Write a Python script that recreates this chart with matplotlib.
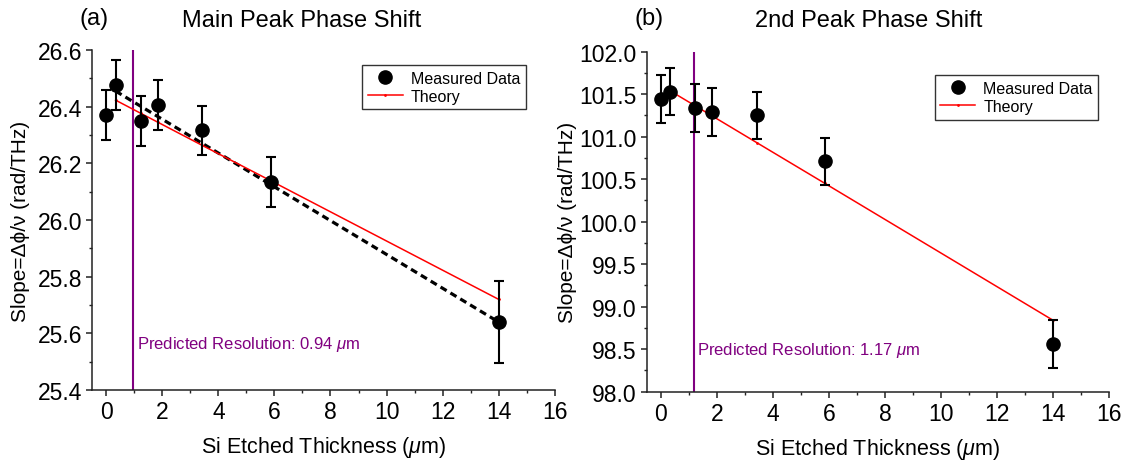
import matplotlib
matplotlib.use("Agg")
import matplotlib.pyplot as plt
from matplotlib.ticker import MultipleLocator

plt.rcParams['font.family'] = ['Liberation Sans', 'DejaVu Sans']
plt.rcParams['mathtext.fontset'] = 'custom'
plt.rcParams['mathtext.it'] = 'Liberation Sans:italic'
plt.rcParams['mathtext.rm'] = 'Liberation Sans'

# etched thickness (um)
thickness = [0.0, 0.33, 1.22, 1.84, 3.43, 5.86, 14.0]

# panel (a): main peak
main_slope = [26.37, 26.477, 26.348, 26.405, 26.316, 26.133, 25.64]
main_err = [0.088, 0.088, 0.088, 0.088, 0.088, 0.088, 0.143]
main_theory_x = [0.33, 1.22, 1.84, 3.43, 5.86, 14.0]
main_theory = [26.423, 26.377, 26.345, 26.263, 26.139, 25.72]
main_fit_x = [0.33, 14.0]
main_fit = [26.455, 25.64]
main_resolution = 0.94

# panel (b): 2nd peak
second_slope = [101.44, 101.53, 101.34, 101.29, 101.25, 100.71, 98.56]
second_err = [0.28, 0.28, 0.28, 0.28, 0.28, 0.28, 0.28]
second_theory_x = [0.33, 1.22, 1.84, 3.43, 5.86, 14.0]
second_theory = [101.54, 101.365, 101.243, 100.929, 100.45, 98.84]
second_resolution = 1.17

fig = plt.figure(figsize=(11.23, 4.64), dpi=100)
ax1 = fig.add_axes([0.0822, 0.1573, 0.4117, 0.7328])
ax2 = fig.add_axes([0.5759, 0.1537, 0.4117, 0.7328])

purple = '#800080'


def style_axis(ax, ylim, ymajor, yminor):
    ax.set_xlim(-0.5, 16)
    ax.set_ylim(*ylim)
    ax.xaxis.set_major_locator(MultipleLocator(2))
    ax.xaxis.set_minor_locator(MultipleLocator(1))
    ax.yaxis.set_major_locator(MultipleLocator(ymajor))
    ax.yaxis.set_minor_locator(MultipleLocator(yminor))
    ax.spines['top'].set_visible(False)
    ax.spines['right'].set_visible(False)
    for s in ('left', 'bottom'):
        ax.spines[s].set_linewidth(1.1)
        ax.spines[s].set_color('#222222')
    ax.tick_params(which='major', direction='out', length=4.5, width=1.1,
                   labelsize=16.5, color='#222222', pad=3)
    ax.tick_params(which='minor', direction='out', length=2.5, width=1.0,
                   color='#222222')
    ax.set_xlabel('Si Etched Thickness ($\\mu$m)', fontsize=15.5)
    ax.set_ylabel('Slope=Δϕ/ν (rad/THz)', fontsize=15)
    ax.xaxis.set_label_coords(0.5, -0.13)


# (a)
ax1.axvline(main_resolution, color=purple, lw=1.5, zorder=1)
ax1.plot(main_fit_x, main_fit, color='black', lw=2.3, dashes=(2.2, 1.4), zorder=2)
ax1.plot(main_theory_x, main_theory, color='red', lw=1.1, marker='.', ms=2,
         label='Theory', zorder=3)
ax1.errorbar(thickness, main_slope, yerr=main_err, fmt='none', ecolor='black',
             elinewidth=1.5, capsize=3.5, capthick=1.5, zorder=4)
ax1.plot(thickness, main_slope, 'o', color='black', ms=9.5, label='Measured Data',
         zorder=5)
ax1.text(main_resolution + 0.15, 25.565, 'Predicted Resolution: 0.94 $\\mu$m',
         color=purple, fontsize=12, va='center')
style_axis(ax1, (25.4, 26.6), 0.2, 0.1)
ax1.yaxis.set_major_formatter(plt.FormatStrFormatter('%.1f'))
ax1.yaxis.set_label_coords(-0.135, 0.5)
h, l = ax1.get_legend_handles_labels()
leg1 = ax1.legend(h[::-1], l[::-1], loc='upper right', bbox_to_anchor=(0.938, 0.956),
                  fontsize=11.5, frameon=True, fancybox=False, handlelength=2.2,
                  borderpad=0.35, labelspacing=0.2, handletextpad=0.5,
                  borderaxespad=0)
leg1.get_frame().set_edgecolor('black')
leg1.get_frame().set_linewidth(1.0)

# (b)
ax2.axvline(second_resolution, color=purple, lw=1.5, zorder=1)
ax2.plot(second_theory_x, second_theory, color='red', lw=1.1, marker='.', ms=2,
         label='Theory', zorder=3)
ax2.errorbar(thickness, second_slope, yerr=second_err, fmt='none', ecolor='black',
             elinewidth=1.5, capsize=3.5, capthick=1.5, zorder=4)
ax2.plot(thickness, second_slope, 'o', color='black', ms=9.5, label='Measured Data',
         zorder=5)
ax2.text(second_resolution + 0.12, 98.5, 'Predicted Resolution: 1.17 $\\mu$m',
         color=purple, fontsize=12, va='center')
style_axis(ax2, (98.0, 102.0), 0.5, 0.25)
ax2.yaxis.set_major_formatter(plt.FormatStrFormatter('%.1f'))
ax2.yaxis.set_label_coords(-0.15, 0.5)
h, l = ax2.get_legend_handles_labels()
leg2 = ax2.legend(h[::-1], l[::-1], loc='upper right', bbox_to_anchor=(0.977, 0.931),
                  fontsize=11.5, frameon=True, fancybox=False, handlelength=2.2,
                  borderpad=0.35, labelspacing=0.2, handletextpad=0.5,
                  borderaxespad=0)
leg2.get_frame().set_edgecolor('black')
leg2.get_frame().set_linewidth(1.0)

# panel letters and titles
fig.text(94 / 1123, 1 - 19 / 464, '(a)', fontsize=17, ha='center', va='center')
fig.text(302 / 1123, 1 - 21 / 464, 'Main Peak Phase Shift', fontsize=17,
         ha='center', va='center')
fig.text(649 / 1123, 1 - 19 / 464, '(b)', fontsize=17, ha='center', va='center')
fig.text(869 / 1123, 1 - 21 / 464, '2nd Peak Phase Shift', fontsize=17,
         ha='center', va='center')

fig.savefig('out.png', dpi=100)
